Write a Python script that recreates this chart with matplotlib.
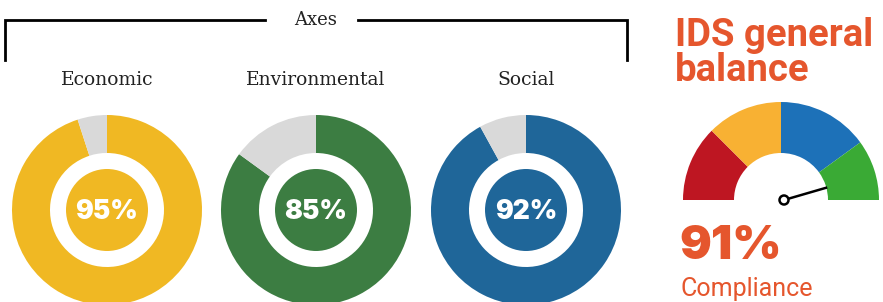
import numpy as np
import matplotlib.pyplot as plt
from matplotlib.patches import Circle

# data
axes_names = ["Economic", "Environmental", "Social"]
axes_values = [95, 85, 92]
axes_colors = ["#F0B823", "#3C7D42", "#1F6699"]
rest_color = "#D9D9D9"

gauge_bands = [25, 25, 30, 20]
gauge_colors = ["#BE1622", "#F8B133", "#1D71B8", "#3AAA35"]
overall = 91
orange = "#E5562D"

W, H = 883, 302
fig = plt.figure(figsize=(W / 100, H / 100), dpi=100)
ax = fig.add_axes([0, 0, 1, 1])


def py(y):
    # pixel row (from top) -> data y
    return H - y


# donuts
centers_x = [107, 316, 526]
cy = py(210)
R, r_white, r_in = 95, 57, 41
for name, val, col, cx in zip(axes_names, axes_values, axes_colors, centers_x):
    ax.pie([val, 100 - val], colors=[col, rest_color], startangle=90,
           counterclock=False, radius=R, center=(cx, cy),
           wedgeprops=dict(width=R - r_white, edgecolor="none"))
    ax.add_patch(Circle((cx, cy), r_in, color=col, lw=0))
    ax.text(cx, cy - 2, f"{val}%", ha="center", va="center", color="white",
            fontsize=19, fontweight="black", family="Inter")
    ax.text(cx, py(80), name, ha="center", va="center", fontsize=13.5,
            family="DejaVu Serif", color="#222222")

# bracket
ax.plot([5, 5, 265], [py(60), py(20), py(20)], color="black", lw=2,
        solid_joinstyle="miter")
ax.plot([358, 627, 627], [py(20), py(20), py(60)], color="black", lw=2,
        solid_joinstyle="miter")
ax.text(316, py(20), "Axes", ha="center", va="center", fontsize=13,
        family="DejaVu Serif", color="#222222")

# gauge
gx, gy = 781, py(200)
GR, gr = 98, 47
ax.pie(gauge_bands + [sum(gauge_bands)], colors=gauge_colors + ["none"],
       startangle=180, counterclock=False, radius=GR, center=(gx, gy),
       wedgeprops=dict(width=GR - gr, edgecolor="none"))
theta = np.deg2rad(180 - overall / 100 * 180)
ax.plot([gx + 3, gx + 3 + 45 * np.cos(theta)], [gy, gy + 45 * np.sin(theta)],
        color="black", lw=1.8, solid_capstyle="butt")
ax.add_patch(Circle((gx + 3, gy), 4.5, facecolor="white", edgecolor="black",
                    lw=1.8, zorder=5))

# titles on the right
ax.text(675, py(53), "IDS general\nbalance", ha="left", va="center",
        fontsize=27.5, fontweight="bold", family="Roboto", color=orange,
        linespacing=0.92)
ax.text(679, py(247), f"{overall}%", ha="left", va="center", fontsize=34,
        fontweight="black", family="Inter", color=orange)
ax.text(681, py(289), "Compliance", ha="left", va="center", fontsize=18,
        family="Roboto", color=orange)

ax.set_xlim(0, W)
ax.set_ylim(0, H)
ax.set_aspect("equal")
ax.axis("off")
fig.savefig("out.png", dpi=100)
